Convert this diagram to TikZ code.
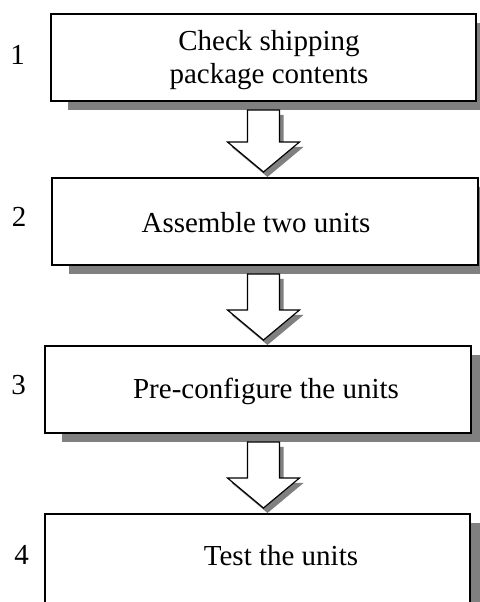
\documentclass[tikz,border=0pt]{standalone}
\usepackage{fontspec}
\setmainfont{Liberation Serif}
\usetikzlibrary{calc, shadows}
\definecolor{shadowgrey}{HTML}{808080}
\tikzset{
  every picture/.style={x=1bp, y=1bp},
  stepbox/.style={draw, fill=white, line width=2bp, minimum width=425bp, minimum height=87bp, inner sep=0pt,
    drop shadow={shadow xshift=17bp, shadow yshift=-9bp, fill=shadowgrey, opacity=1}},
  steptext/.style={font=\fontsize{29bp}{33bp}\selectfont, anchor=base, align=center, inner sep=0pt},
  stepnum/.style={font=\fontsize{29bp}{33bp}\selectfont, anchor=base, inner sep=0pt},
  hollow/.style={draw, fill=white, line width=1.2bp, line join=miter,
    drop shadow={shadow xshift=4bp, shadow yshift=-5bp, fill=shadowgrey, opacity=1}},
}
% hollow down arrow from one box to the next
\newcommand{\flowarrow}[2]{%
  \path[hollow] let \p0=(b1.south), \p1=(#1.south), \p2=(#2.north) in
    (\x0-16bp,\y1-8bp) -- (\x0+16bp,\y1-8bp) -- (\x0+16bp,\y2+35bp) -- (\x0+36bp,\y2+35bp)
    -- (\x0,\y2+5bp) -- (\x0-36bp,\y2+35bp) -- (\x0-16bp,\y2+35bp) -- cycle;}

\begin{document}
\begin{tikzpicture}
  \path[use as bounding box, clip] (0,0) rectangle (480,602);
  % boxes
  \node[stepbox] (b1) at (263.5,544.5) {};
  \node[stepbox] (b2) at (265,380.5) {};
  \node[stepbox] (b3) at (258,212.5) {};
  \node[stepbox, minimum height=100bp] (b4) at (257.5,38) {};
  % texts
  \node[steptext] (t1) at (269,518) {Check shipping\\package contents};
  \node[steptext] (t2) at (256,369) {Assemble two units};
  \node[steptext] (t3) at (266,203) {Pre-configure the units};
  \node[steptext] (t4) at (281,36) {Test the units};
  % step numbers
  \node[stepnum] (n1) at (17.5,537) {1};
  \node[stepnum] (n2) at (19,375) {2};
  \node[stepnum] (n3) at (18.5,207) {3};
  \node[stepnum] (n4) at (21.5,37) {4};
  % arrows
  \flowarrow{b1}{b2}
  \flowarrow{b2}{b3}
  \flowarrow{b3}{b4}
\end{tikzpicture}
\end{document}
